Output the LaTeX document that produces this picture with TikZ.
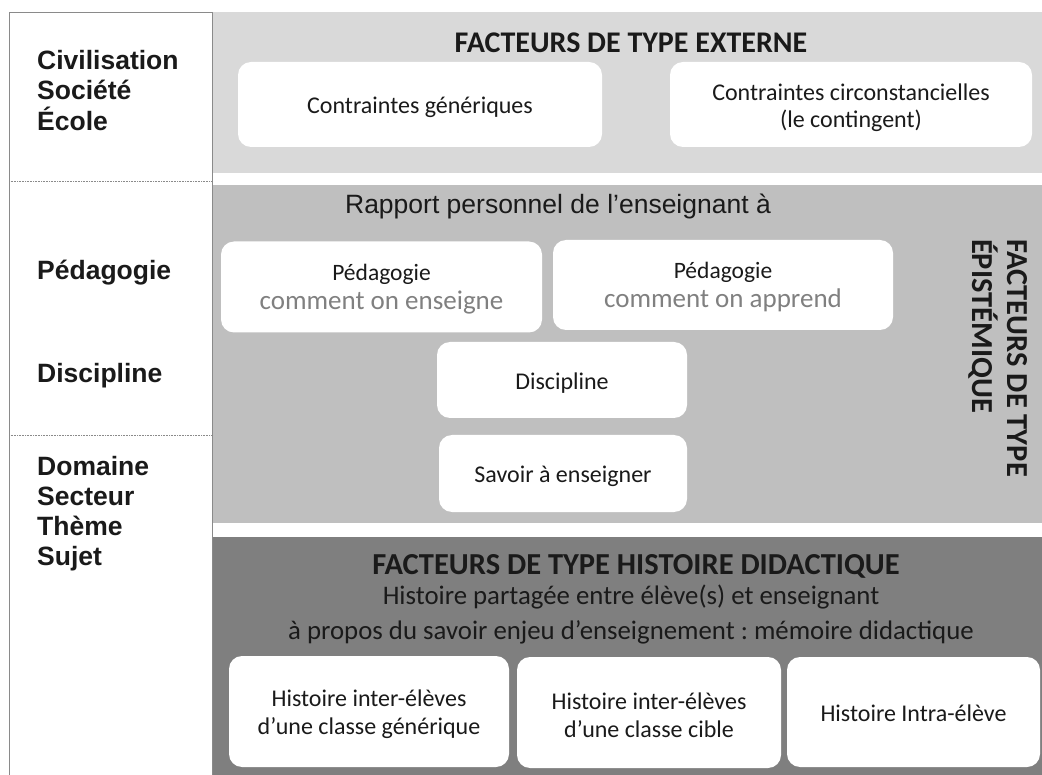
\documentclass[tikz,border=0pt]{standalone}
\usepackage{fontspec}
\setmainfont{Carlito}
\newfontfamily\arialf{Liberation Sans}
\frenchspacing
\definecolor{bandA}{HTML}{D9D9D9}
\definecolor{bandB}{HTML}{BFBFBF}
\definecolor{bandC}{HTML}{7F7F7F}
\definecolor{edgegray}{HTML}{8A8A8A}
\definecolor{subtxt}{HTML}{808080}
\definecolor{ink}{HTML}{1A1A1A}
\begin{document}
\begin{tikzpicture}[x=1pt,y=-1pt,
  cardbox/.style={fill=white, rounded corners=13pt, inner sep=0pt},
  cardtext/.style={inner sep=0pt, align=center, text=ink, font=\fontsize{24}{28}\selectfont},
  sidelabel/.style={anchor=north west, inner sep=0pt, align=left, text=ink,
    font=\arialf\bfseries\fontsize{26.5}{30.5}\selectfont},
  bandtitle/.style={inner sep=0pt, text=ink, font=\bfseries\fontsize{30}{34}\selectfont},
  bandtext/.style={inner sep=0pt, align=center, text=ink, font=\fontsize{26.8}{35}\selectfont}]
\useasboundingbox (0,0) rectangle (1042,775);
\fill[white] (0,0) rectangle (1042,775);
% bands
\fill[bandA] (212,12) rectangle (1042,173);
\fill[bandB] (212,185) rectangle (1042,523);
\fill[bandC] (212,537) rectangle (1042,775);
% left column
\draw[edgegray, line width=0.9pt] (9,790) -- (9,12) -- (212,12) -- (212,790);
\draw[edgegray, densely dotted, line width=0.6pt] (9,181) -- (212,181);
\draw[edgegray, densely dotted, line width=0.6pt] (9,435) -- (212,435);
% left labels
\node[sidelabel] (civ) at (37,50) {Civilisation\\Société\\École};
\node[sidelabel] (peda) at (37,260) {Pédagogie};
\node[sidelabel] (disl) at (37,363) {Discipline};
\node[sidelabel, font=\arialf\bfseries\fontsize{26.5}{30}\selectfont] (dom) at (37,456) {Domaine\\Secteur\\Thème\\Sujet};
% external band
\node[bandtitle] (ext) at (631,43) {FACTEURS DE TYPE EXTERNE};
\node[cardbox, minimum width=364pt, minimum height=85pt] (cg) at (420,104.5) {};
\node[cardtext] (cgt) at ([yshift=-3pt]cg.center) {Contraintes génériques};
\node[cardbox, minimum width=362pt, minimum height=85pt] (cc) at (851,104.5) {};
\node[cardtext, font=\fontsize{24}{27}\selectfont] (cct) at ([yshift=-3pt]cc.center) {Contraintes circonstancielles\\(le contingent)};
% epistemic band
\node[inner sep=0pt, text=ink, font=\arialf\fontsize{26.5}{30}\selectfont] (rap) at (558,206) {Rapport personnel de l’enseignant à};
\node[cardbox, minimum width=321pt, minimum height=91pt] (p1) at (381.5,287) {};
\node[cardtext, font=\fontsize{23.5}{29}\selectfont] (p1t) at ([yshift=-2pt]p1.center) {Pédagogie\\{\color{subtxt}\fontsize{27}{29}\selectfont comment on enseigne}};
\node[cardbox, minimum width=340pt, minimum height=90pt] (p2) at (723,285) {};
\node[cardtext, font=\fontsize{23.5}{29}\selectfont] (p2t) at ([yshift=-2pt]p2.center) {Pédagogie\\{\color{subtxt}\fontsize{27}{29}\selectfont comment on apprend}};
\node[cardbox, minimum width=250pt, minimum height=76pt] (dis) at (562,380) {};
\node[cardtext] (dist) at ([yshift=-3pt]dis.center) {Discipline};
\node[cardbox, minimum width=248pt, minimum height=77pt] (sav) at (563,473.5) {};
\node[cardtext] (savt) at ([yshift=-3pt]sav.center) {Savoir à enseigner};
\node[inner sep=0pt, rotate=-90, align=left, text=ink, font=\bfseries\fontsize{30.5}{35}\selectfont] (epi) at (998,358) {FACTEURS DE TYPE\\ÉPISTÉMIQUE};
% didactic history band
\node[bandtitle, font=\bfseries\fontsize{30.5}{34}\selectfont] (hist) at (636,566) {FACTEURS DE TYPE HISTOIRE DIDACTIQUE};
\node[bandtext] (hp) at (631,615) {Histoire partagée entre élève(s) et enseignant\\à propos du savoir enjeu d’enseignement : mémoire didactique};
\node[cardbox, minimum width=280pt, minimum height=111pt] (h1) at (369,711.5) {};
\node[cardtext] (h1t) at ([yshift=-3pt]h1.center) {Histoire inter-élèves\\d’une classe générique};
\node[cardbox, minimum width=264pt, minimum height=111pt] (h2) at (649,712.5) {};
\node[cardtext] (h2t) at ([yshift=-3pt]h2.center) {Histoire inter-élèves\\d’une classe cible};
\node[cardbox, minimum width=253pt, minimum height=110pt] (h3) at (913.5,712) {};
\node[cardtext] (h3t) at ([yshift=-1pt]h3.center) {Histoire Intra-élève};
\end{tikzpicture}
\end{document}
